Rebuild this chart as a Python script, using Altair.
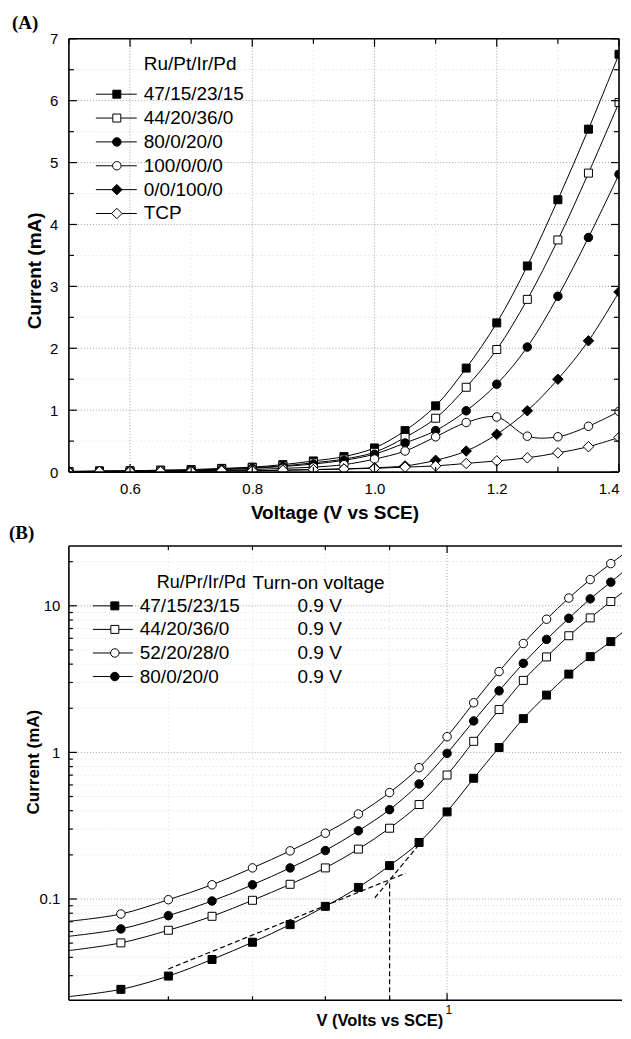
import altair as alt
import pandas as pd

# ---------------- Panel A data ----------------
A_VOLT = [0.50, 0.55, 0.60, 0.65, 0.70, 0.75, 0.80, 0.85, 0.90, 0.95,
          1.00, 1.05, 1.10, 1.15, 1.20, 1.25, 1.30, 1.35, 1.40]
A_SERIES = ["47/15/23/15", "44/20/36/0", "80/0/20/0", "100/0/0/0", "0/0/100/0", "TCP"]
A_SHAPES = ["square", "square", "circle", "circle", "diamond", "diamond"]
A_FILLED = [True, False, True, False, True, False]
A_47 = [0.01, 0.02, 0.02, 0.03, 0.04, 0.06, 0.08, 0.12, 0.18, 0.25, 0.39, 0.67, 1.07, 1.68, 2.41, 3.33, 4.40, 5.54, 6.75]
A_44 = [0.01, 0.01, 0.02, 0.03, 0.03, 0.05, 0.07, 0.10, 0.15, 0.21, 0.32, 0.56, 0.87, 1.37, 1.98, 2.79, 3.75, 4.83, 5.97]
A_80 = [0.01, 0.01, 0.02, 0.02, 0.03, 0.04, 0.06, 0.09, 0.13, 0.19, 0.29, 0.47, 0.67, 0.99, 1.42, 2.02, 2.84, 3.79, 4.81]
A_100 = [0.01, 0.01, 0.01, 0.02, 0.02, 0.03, 0.04, 0.06, 0.08, 0.12, 0.21, 0.34, 0.57, 0.80, 0.89, 0.58, 0.57, 0.74, 0.98]
A_0100 = [0.00, 0.01, 0.01, 0.01, 0.01, 0.02, 0.02, 0.03, 0.04, 0.05, 0.07, 0.10, 0.19, 0.34, 0.61, 0.99, 1.50, 2.12, 2.91]
A_TCP = [0.00, 0.01, 0.01, 0.01, 0.01, 0.02, 0.02, 0.03, 0.04, 0.05, 0.06, 0.08, 0.10, 0.14, 0.18, 0.23, 0.31, 0.41, 0.56]
A_X_MAJOR = [0.6, 0.8, 1.0, 1.2, 1.4]
A_X_MINOR = [0.5, 0.7, 0.9, 1.1, 1.3]
A_Y_MAJOR = [0, 1, 2, 3, 4, 5, 6, 7]
A_Y_MINOR = [0.5, 1.5, 2.5, 3.5, 4.5, 5.5, 6.5]

# ---------------- Panel B data ----------------
B_VOLT = [0.50, 0.55, 0.60, 0.65, 0.70, 0.75, 0.80, 0.85, 0.90, 0.95,
          1.00, 1.05, 1.10, 1.15, 1.20, 1.25, 1.30, 1.35, 1.40]
B_SERIES = ["47/15/23/15", "44/20/36/0", "52/20/28/0", "80/0/20/0"]
B_SHAPES = ["square", "square", "circle", "circle"]
B_FILLED = [True, False, False, True]
B_TURN_ON = ["0.9 V", "0.9 V", "0.9 V", "0.9 V"]
B_47 = [0.0216, 0.0242, 0.0298, 0.0387, 0.0507, 0.0669, 0.0891, 0.120, 0.169, 0.243,
        0.393, 0.666, 1.08, 1.70, 2.46, 3.42, 4.50, 5.70, 7.3]
B_44 = [0.0445, 0.0502, 0.0612, 0.0762, 0.098, 0.126, 0.163, 0.219, 0.304, 0.441,
        0.701, 1.19, 1.96, 3.10, 4.48, 6.25, 8.27, 10.7, 13.6]
B_52 = [0.0705, 0.079, 0.0989, 0.125, 0.163, 0.213, 0.281, 0.380, 0.532, 0.787,
        1.28, 2.18, 3.56, 5.53, 8.10, 11.3, 15.1, 19.4, 24.5]
B_80 = [0.0557, 0.0625, 0.077, 0.0969, 0.125, 0.163, 0.214, 0.292, 0.407, 0.609,
        0.985, 1.64, 2.63, 4.05, 5.90, 8.22, 11.15, 14.5, 18.8]
B_X_MAJOR = [1.0]
B_X_MINOR = [0.6, 0.7, 0.8, 0.9]
B_Y_MAJOR = [0.1, 1, 10]
B_Y_MINOR = [0.03, 0.04, 0.05, 0.06, 0.07, 0.08, 0.09,
             0.2, 0.3, 0.4, 0.5, 0.6, 0.7, 0.8, 0.9,
             2, 3, 4, 5, 6, 7, 8, 9, 20]
# dashed construction lines for the turn-on voltage
B_TAN_LOW_V = [0.60, 0.927]
B_TAN_LOW_I = [0.0333, 0.150]
B_TAN_HIGH_V = [0.876, 0.950]
B_TAN_HIGH_I = [0.102, 0.235]
B_TURN_V = [0.9, 0.9]
B_TURN_I = [0.0204, 0.134]

# ---------------- layout / style ----------------
FONT = "Liberation Sans"
WA, HA = 551, 434
WB, HB = 554, 455
SIZES = {"square": 64, "circle": 72, "diamond": 110}
GRID_MAJOR = dict(color="#8c8c8c", strokeDash=[1, 2], strokeWidth=0.8)
GRID_MINOR = dict(color="#d0d0d0", strokeDash=[1, 3], strokeWidth=0.8)
FRAME = dict(color="black", strokeWidth=1.6)
TICK = dict(color="black", strokeWidth=1.2)

one = pd.DataFrame({"k": [0]})

# ---- scales and axes (same axis object in every layer so they merge cleanly)
xsA = alt.Scale(domain=[0.5, 1.4], nice=False, zero=False)
ysA = alt.Scale(domain=[0, 7], nice=False, zero=False)
axXA = alt.Axis(values=A_X_MAJOR, format=".1f", grid=False, ticks=False, domain=False,
                labelFontSize=15, labelPadding=9, labelFlush=True, labelOverlap=False,
                title="Voltage (V vs SCE)", titleFontSize=19, titleFontWeight="bold",
                titleX=266, titleY=41, titleBaseline="middle", titleAlign="center")
axYA = alt.Axis(values=A_Y_MAJOR, format="d", grid=False, ticks=False, domain=False,
                labelFontSize=15, labelPadding=11, labelOverlap=False,
                title="Current (mA)", titleFontSize=19, titleFontWeight="bold",
                titleX=-34, titleY=232, titleBaseline="middle", titleAlign="center", titleAngle=-90)

xsB = alt.Scale(type="log", domain=[0.5, 1.378], nice=False)
ysB = alt.Scale(type="log", domain=[0.0204, 25.6], nice=False)
axXB = alt.Axis(values=B_X_MAJOR, format="d", grid=False, ticks=False, domain=False,
                labelFontSize=12, labelPadding=4, labelFlush=False, labelOverlap=False,
                labelAlign="left", labelOffset=-2,
                title="V (Volts vs SCE)", titleFontSize=16.5, titleFontWeight="bold",
                titleX=311, titleY=20, titleBaseline="middle", titleAlign="center")
axYB = alt.Axis(values=B_Y_MAJOR, format="~g", grid=False, ticks=False, domain=False,
                labelFontSize=15, labelPadding=9, labelOverlap=False,
                title="Current (mA)", titleFontSize=17, titleFontWeight="bold",
                titleX=-35, titleY=216, titleBaseline="middle", titleAlign="center", titleAngle=-90)


def hrule(y, x1, x2, **kw):
    return alt.Chart(one).mark_rule(**kw).encode(x=alt.value(x1), x2=alt.value(x2), y=alt.value(y))


def vrule(x, y1, y2, **kw):
    return alt.Chart(one).mark_rule(**kw).encode(x=alt.value(x), y=alt.value(y1), y2=alt.value(y2))


def xrules(vals, scale, axis, y1, y2, **kw):
    return alt.Chart(pd.DataFrame({"V": vals})).mark_rule(**kw).encode(
        x=alt.X("V:Q", scale=scale, axis=axis), y=alt.value(y1), y2=alt.value(y2))


def yrules(vals, scale, axis, x1, x2, **kw):
    return alt.Chart(pd.DataFrame({"I": vals})).mark_rule(**kw).encode(
        y=alt.Y("I:Q", scale=scale, axis=axis), x=alt.value(x1), x2=alt.value(x2))


def text_at(txt, x, y, size, font=FONT, weight="normal", align="left"):
    return alt.Chart(pd.DataFrame({"s": [txt]})).mark_text(
        align=align, baseline="middle", font=font, fontSize=size, fontWeight=weight, color="black"
    ).encode(x=alt.value(x), y=alt.value(y), text="s:N")


def legend_row(name, shape, filled, x_line1, x_line2, x_mark, x_text, y, size):
    line = hrule(y, x_line1, x_line2, color="black", strokeWidth=1)
    mark = alt.Chart(pd.DataFrame({"s": [name]})).mark_point(
        shape=shape, size=SIZES[shape], filled=True, fill="black" if filled else "white",
        stroke="black", strokeWidth=1, opacity=1
    ).encode(x=alt.value(x_mark), y=alt.value(y))
    label = text_at(name, x_text, y, size)
    return [line, mark, label]


def series_layers(df, names, shapes, filled, xs, ys, axx, axy, keep):
    out = [alt.Chart(df).mark_line(interpolate="catmull-rom", color="black", strokeWidth=1, clip=True).encode(
        x=alt.X("V:Q", scale=xs, axis=axx), y=alt.Y("I:Q", scale=ys, axis=axy), detail="series:N")]
    for name, shape, fl in zip(names, shapes, filled):
        sub = df[(df.series == name) & keep(df)]
        out.append(alt.Chart(sub).mark_point(
            shape=shape, size=SIZES[shape], filled=True, fill="black" if fl else "white",
            stroke="black", strokeWidth=1, opacity=1, clip=True
        ).encode(x=alt.X("V:Q", scale=xs, axis=axx), y=alt.Y("I:Q", scale=ys, axis=axy)))
    return out


# ================= Panel A =================
rowsA = []
for name, vals in zip(A_SERIES, [A_47, A_44, A_80, A_100, A_0100, A_TCP]):
    for v, c in zip(A_VOLT, vals):
        rowsA.append({"series": name, "V": v, "I": c})
dfA = pd.DataFrame(rowsA)

layersA = [
    xrules(A_X_MINOR, xsA, axXA, 0, HA, **GRID_MINOR),
    yrules(A_Y_MINOR, ysA, axYA, 0, WA, **GRID_MINOR),
    xrules(A_X_MAJOR, xsA, axXA, 0, HA, **GRID_MAJOR),
    yrules(A_Y_MAJOR[1:], ysA, axYA, 0, WA, **GRID_MAJOR),
]
layersA += series_layers(dfA, A_SERIES, A_SHAPES, A_FILLED, xsA, ysA, axXA, axYA,
                         lambda d: d.V >= 0.5)
layersA += [
    xrules(A_X_MAJOR, xsA, axXA, HA, HA - 8, **TICK),
    xrules(A_X_MINOR, xsA, axXA, HA, HA - 5, **TICK),
    xrules(A_X_MAJOR, xsA, axXA, 0, 8, **TICK),
    xrules(A_X_MINOR, xsA, axXA, 0, 5, **TICK),
    yrules(A_Y_MAJOR, ysA, axYA, 0, 8, **TICK),
    yrules(A_Y_MINOR, ysA, axYA, 0, 5, **TICK),
    yrules(A_Y_MAJOR, ysA, axYA, WA, WA - 8, **TICK),
    yrules(A_Y_MINOR, ysA, axYA, WA, WA - 5, **TICK),
    hrule(0, 0, WA, **FRAME), hrule(HA, 0, WA, **FRAME),
    vrule(0, 0, HA, **FRAME), vrule(WA, 0, HA, **FRAME),
]
layersA.append(text_at("Ru/Pt/Ir/Pd", 75, 25, 19))
for i, (name, shape, filled) in enumerate(zip(A_SERIES, A_SHAPES, A_FILLED)):
    layersA += legend_row(name, shape, filled, 27, 68, 48, 75, 55.5 + 23.9 * i, 19)
layersA.append(text_at("(A)", -57, -16, 19, font="Liberation Serif", weight="bold"))

panelA = alt.layer(*layersA).properties(width=WA, height=HA)

# ================= Panel B =================
rowsB = []
for name, vals in zip(B_SERIES, [B_47, B_44, B_52, B_80]):
    for v, c in zip(B_VOLT, vals):
        rowsB.append({"series": name, "V": v, "I": c})
dfB = pd.DataFrame(rowsB)

layersB = [
    xrules(B_X_MINOR, xsB, axXB, 0, HB, **GRID_MINOR),
    yrules(B_Y_MINOR, ysB, axYB, 0, WB, **GRID_MINOR),
    xrules(B_X_MAJOR, xsB, axXB, 0, HB, **GRID_MAJOR),
    yrules(B_Y_MAJOR, ysB, axYB, 0, WB, **GRID_MAJOR),
]
# the 0.50 V and 1.40 V samples sit on the frame edges: line only, no marker
layersB += series_layers(dfB, B_SERIES, B_SHAPES, B_FILLED, xsB, ysB, axXB, axYB,
                         lambda d: (d.V >= 0.55) & (d.V <= 1.36))

dashed = dict(color="black", strokeWidth=1.2, strokeDash=[5, 3], clip=True)
for vv, ii in [(B_TAN_LOW_V, B_TAN_LOW_I), (B_TAN_HIGH_V, B_TAN_HIGH_I), (B_TURN_V, B_TURN_I)]:
    layersB.append(
        alt.Chart(pd.DataFrame({"V": vv, "I": ii})).mark_line(**dashed).encode(
            x=alt.X("V:Q", scale=xsB, axis=axXB), y=alt.Y("I:Q", scale=ysB, axis=axYB))
    )

layersB += [
    xrules(B_X_MAJOR, xsB, axXB, HB, HB - 7, **TICK),
    xrules(B_X_MINOR, xsB, axXB, HB, HB - 4, **TICK),
    xrules(B_X_MAJOR, xsB, axXB, 0, 7, **TICK),
    xrules(B_X_MINOR, xsB, axXB, 0, 4, **TICK),
    yrules(B_Y_MAJOR, ysB, axYB, 0, 8, **TICK),
    yrules(B_Y_MINOR, ysB, axYB, 0, 4, **TICK),
    hrule(0, 0, WB, **FRAME), hrule(HB, 0, WB, **FRAME),
    vrule(0, 0, HB, **FRAME),
]
layersB.append(text_at("Ru/Pr/Ir/Pd", 88, 37, 18))
layersB.append(text_at("Turn-on voltage", 184, 37, 19))
for i, (name, shape, filled, ton) in enumerate(zip(B_SERIES, B_SHAPES, B_FILLED, B_TURN_ON)):
    y = 60 + 23.6 * i
    layersB += legend_row(name, shape, filled, 24, 64, 46, 71, y, 19)
    layersB.append(text_at(ton, 229, y, 19))
layersB.append(text_at("(B)", -60, -12.5, 19, font="Liberation Serif", weight="bold"))

panelB = alt.layer(*layersB).properties(width=WB, height=HB)

chart = alt.vconcat(panelA, panelB, spacing=74, bounds="flush").properties(
    padding={"left": 1, "top": 5, "right": 0, "bottom": 0}
).configure(font=FONT).configure_view(stroke=None).configure_axis(
    labelColor="black", titleColor="black", labelFont=FONT, titleFont=FONT
)

chart.save("out.html", embed_options={"renderer": "svg", "actions": False})
